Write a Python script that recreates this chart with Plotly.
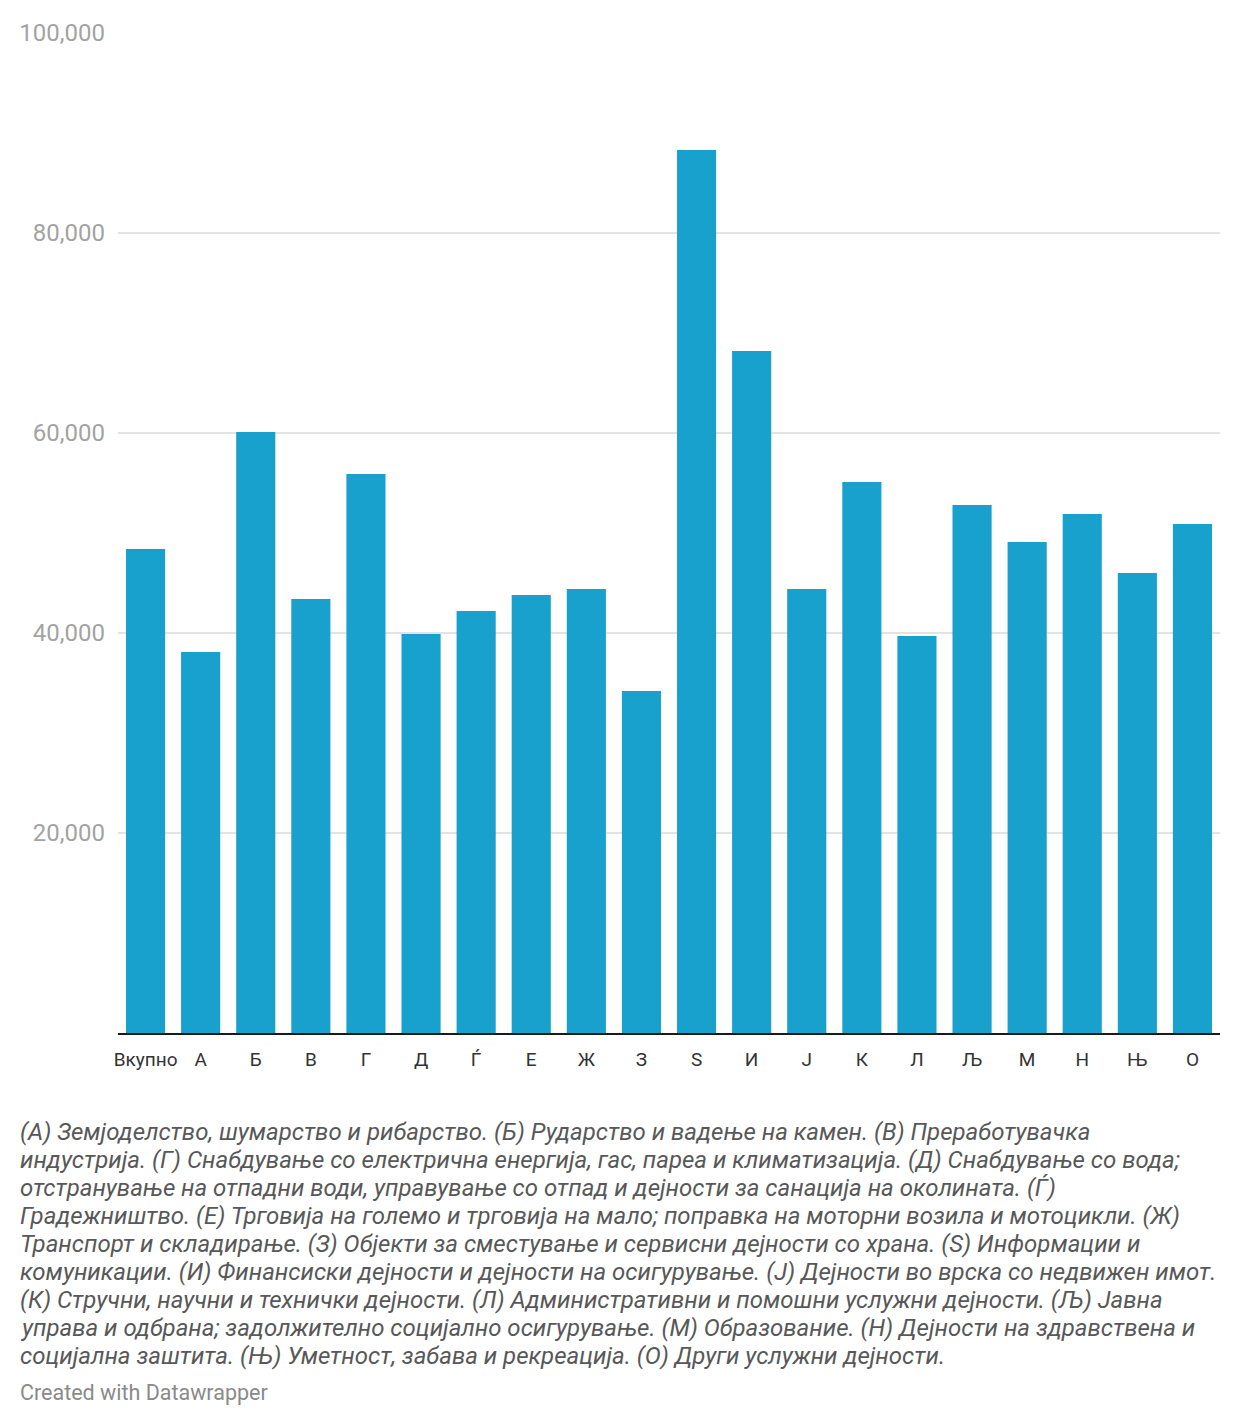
import plotly.graph_objects as go

# Categories and values
categories = ["Вкупно", "А", "Б", "В", "Г", "Д", "Ѓ", "Е", "Ж", "З",
              "S", "И", "Ј", "К", "Л", "Љ", "М", "Н", "Њ", "О"]
values = [48400, 38100, 60100, 43400, 55900, 39900, 42200, 43800, 44400, 34200,
          88300, 68200, 44400, 55100, 39700, 52800, 49100, 51900, 46000, 50900]

y_ticks = [20000, 40000, 60000, 80000, 100000]
y_tick_text = ["20,000", "40,000", "60,000", "80,000", "100,000"]

footnote_lines = [
    "(А) Земјоделство, шумарство и рибарство. (Б) Рударство и вадење на камен. (В) Преработувачка",
    "индустрија. (Г) Снабдување со електрична енергија, гас, пареа и климатизација. (Д) Снабдување со вода;",
    "отстранување на отпадни води, управување со отпад и дејности за санација на околината. (Ѓ)",
    "Градежништво. (Е) Трговија на големо и трговија на мало; поправка на моторни возила и мотоцикли. (Ж)",
    "Транспорт и складирање. (З) Објекти за сместување и сервисни дејности со храна. (S) Информации и",
    "комуникации. (И) Финансиски дејности и дејности на осигурување. (Ј) Дејности во врска со недвижен имот.",
    "(К) Стручни, научни и технички дејности. (Л) Административни и помошни услужни дејности. (Љ) Јавна",
    "управа и одбрана; задолжително социјално осигурување. (М) Образование. (Н) Дејности на здравствена и",
    "социјална заштита. (Њ) Уметност, забава и рекреација. (О) Други услужни дејности.",
]
credit = "Created with Datawrapper"

# page has an 8px body margin, so figure coords = screen coords - 8
W, H = 1224, 1410
L, R, T, B = 110, 12, 25, 385
plot_w = W - L - R
plot_h = H - T - B

fig = go.Figure(
    go.Bar(
        x=categories,
        y=values,
        marker=dict(color="#18a1cd", line=dict(width=0)),
        hoverinfo="x+y",
    )
)

fig.update_layout(
    width=W,
    height=H,
    margin=dict(l=L, r=R, t=T, b=B),
    paper_bgcolor="white",
    plot_bgcolor="white",
    font=dict(family="Roboto, sans-serif"),
    bargap=0.29,
    showlegend=False,
)

fig.update_xaxes(
    showgrid=False,
    showline=True,
    linecolor="#1a1a1a",
    linewidth=2,
    ticks="",
    ticklabelstandoff=8,
    tickfont=dict(size=19, color="#333333"),
)

fig.update_yaxes(
    range=[0, 100000],
    tickvals=y_ticks,
    ticktext=y_tick_text,
    showgrid=True,
    gridcolor="#e3e3e3",
    gridwidth=2,
    zeroline=False,
    ticks="",
    ticklabelstandoff=12,
    tickfont=dict(size=24, color="#a3a3a3"),
)

x0 = (10 - L) / plot_w

# footnote lines, one annotation per line
for i, line in enumerate(footnote_lines):
    fig.add_annotation(
        text="<i>" + line + "</i>",
        xref="paper", yref="paper",
        x=x0, y=(1025 - 1124 - 28 * i) / plot_h,
        xanchor="left", yanchor="middle",
        showarrow=False,
        font=dict(size=24, color="#585858"),
    )

fig.add_annotation(
    text=credit,
    xref="paper", yref="paper",
    x=x0, y=(1025 - 1384) / plot_h,
    xanchor="left", yanchor="middle",
    showarrow=False,
    font=dict(size=21.5, color="#8a8a8a"),
)

fig.write_html("out.html")
